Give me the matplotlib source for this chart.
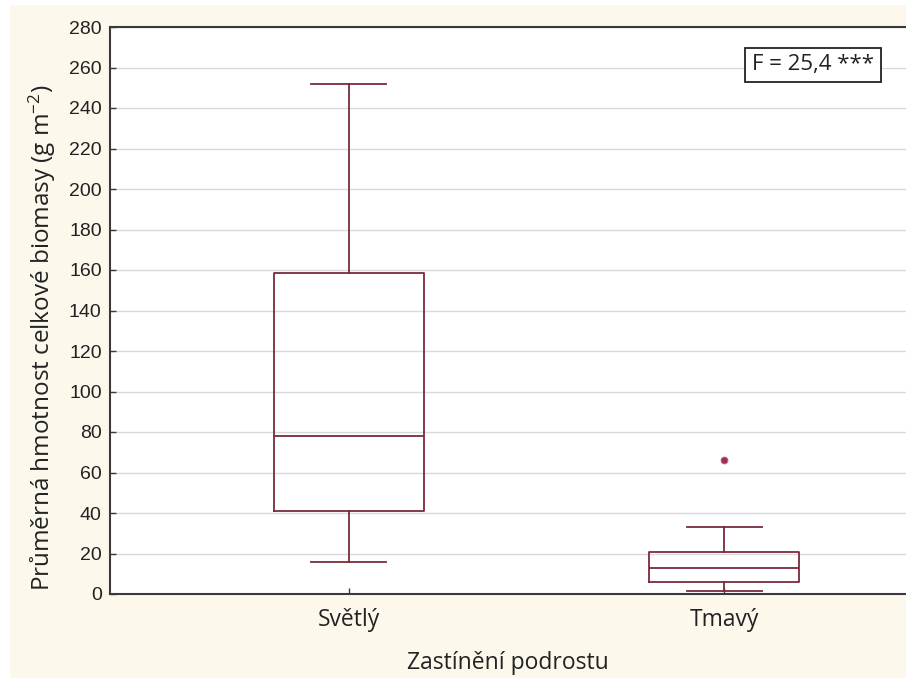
import matplotlib.pyplot as plt
from matplotlib.patches import Rectangle

plt.rcParams['mathtext.default'] = 'regular'

categories = ['Světlý', 'Tmavý']
medians = [78, 12.8]
q1 = [41, 5.9]
q3 = [158.5, 20.7]
whislo = [15.8, 1.5]
whishi = [252, 33]
fliers = [[], [66]]

box_color = '#7a2b3a'
cream = '#fdf8ec'

fig = plt.figure(figsize=(9.06, 6.78), dpi=100, facecolor='white')
fig.patches.append(Rectangle((10 / 906, 0), 1, 1 - 5 / 678, transform=fig.transFigure,
                             facecolor=cream, edgecolor='none', zorder=-10))
ax = fig.add_axes([110 / 906, 1 - 594 / 678, 1 - 110 / 906, (594 - 27) / 678])
ax.set_facecolor('white')

stats = []
for i, cat in enumerate(categories):
    stats.append(dict(label=cat, med=medians[i], q1=q1[i], q3=q3[i],
                      whislo=whislo[i], whishi=whishi[i], fliers=fliers[i]))

line = dict(color=box_color, linewidth=1.3)
ax.bxp(stats, positions=[1, 2], widths=0.4, showfliers=True,
       boxprops=line, medianprops=line, whiskerprops=line, capprops=line,
       capwidths=0.2,
       flierprops=dict(marker='o', markersize=5, markerfacecolor='#9c3050',
                       markeredgecolor='#c07080', markeredgewidth=0.6, linestyle='none'))

ax.set_xlim(0.363, 2.485)
ax.set_ylim(0, 280)
ax.set_yticks(range(0, 281, 20))
ax.grid(axis='y', color='#d9d9d9', linewidth=1)
ax.set_axisbelow(True)

for s in ['left', 'bottom', 'top']:
    ax.spines[s].set_color('#3a3a3a')
    ax.spines[s].set_linewidth(1.5)
ax.spines['right'].set_visible(False)

ax.tick_params(axis='y', direction='in', length=4, width=1, color='#3a3a3a',
               labelsize=14, pad=6)
ax.tick_params(axis='x', direction='in', length=4, width=1, color='#3a3a3a',
               labelsize=16.5, pad=10)
for lab in ax.get_yticklabels():
    lab.set_fontfamily('Liberation Sans')
    lab.set_color('#222222')
for lab in ax.get_xticklabels():
    lab.set_fontfamily('Open Sans')
    lab.set_color('#222222')

ax.set_xlabel('Zastínění podrostu', fontsize=16.5, family='Open Sans', color='#222222', labelpad=14)
fig.text(42 / 906, 1 - 338 / 678, 'Průměrná hmotnost celkové biomasy (g m$^{-2}$)',
         rotation=90, ha='center', va='center', fontsize=17.5, family='Open Sans', color='#222222')

ax.text(0.883, 0.933, 'F = 25,4 ***', transform=ax.transAxes, ha='center', va='center',
        fontsize=16, family='Open Sans', color='#222222',
        bbox=dict(boxstyle='square,pad=0.3', facecolor='white', edgecolor='#222222', linewidth=1.3))

fig.savefig('out.png', dpi=100, facecolor=fig.get_facecolor())
